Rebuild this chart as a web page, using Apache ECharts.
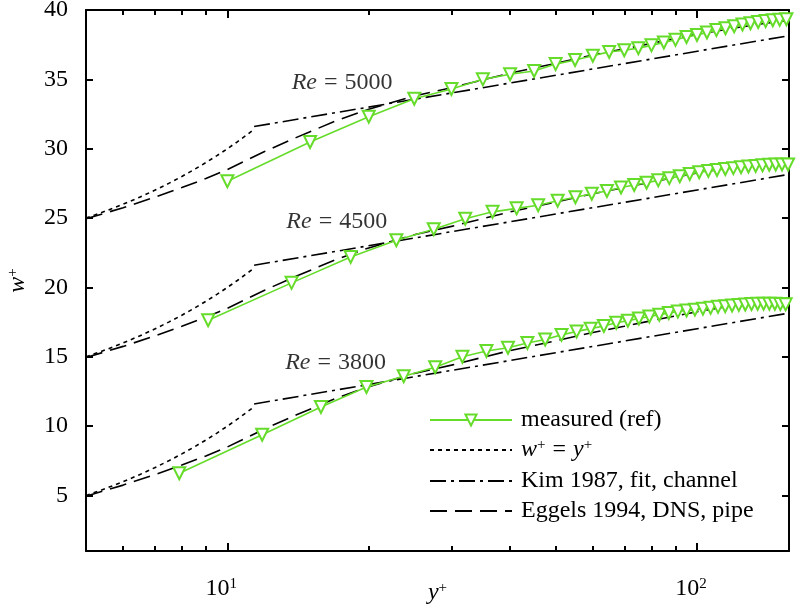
<!DOCTYPE html>
<html>
<head>
<meta charset="utf-8">
<script src="https://cdn.jsdelivr.net/npm/echarts@6/dist/echarts.min.js"></script>
<style>
html,body{margin:0;padding:0;background:#fff;}
#chart{width:798px;height:612px;}
</style>
</head>
<body>
<div id="chart"></div>
<script>
// ---- data ----
var xMajorTicks = [10, 100];
var xMajorExp = ['1', '2'];
var xMinorTicks = [5, 6, 7, 8, 9, 20, 30, 40, 50, 60, 70, 80, 90];
var yTicks = [5, 10, 15, 20, 25, 30, 35, 40];

// w+ = y+ (viscous sublayer)
var dottedX = [5, 5.5, 6, 6.5, 7, 7.5, 8, 8.5, 9, 9.5, 10, 10.5, 11, 11.4];
var dotted3800 = [5, 5.5, 6, 6.5, 7, 7.5, 8, 8.5, 9, 9.5, 10, 10.5, 11, 11.4];
var dotted4500 = [15, 15.5, 16, 16.5, 17, 17.5, 18, 18.5, 19, 19.5, 20, 20.5, 21, 21.4];
var dotted5000 = [25, 25.5, 26, 26.5, 27, 27.5, 28, 28.5, 29, 29.5, 30, 30.5, 31, 31.4];

// Kim 1987 fit (log law)
var kimX = [11.4, 157];
var kim3800 = [11.6, 18.15];
var kim4500 = [21.6, 28.15];
var kim5000 = [31.6, 38.15];

// Eggels 1994 DNS pipe
var dnsX = [5, 6, 7, 8, 9, 10, 12, 14, 17, 20, 25, 30, 40, 50, 60, 70, 80, 100, 120, 140, 157];
var dns3800 = [4.95, 5.75, 6.5, 7.2, 7.85, 8.5, 9.8, 10.8, 12.0, 12.85, 13.8, 14.4, 15.45, 16.15, 16.75, 17.2, 17.6, 18.25, 18.7, 19.05, 19.25];
var dns4500 = [14.95, 15.75, 16.5, 17.2, 17.85, 18.5, 19.8, 20.8, 22.0, 22.85, 23.8, 24.4, 25.45, 26.15, 26.75, 27.2, 27.6, 28.25, 28.7, 29.05, 29.25];
var dns5000 = [24.95, 25.75, 26.5, 27.2, 27.85, 28.5, 29.8, 30.8, 32.0, 32.85, 33.8, 34.4, 35.45, 36.15, 36.75, 37.2, 37.6, 38.25, 38.7, 39.05, 39.25];

// measured (ref)
var measX3800 = [7.9, 11.86, 15.82, 19.78, 23.74, 27.7, 31.66, 35.62, 39.58, 43.54, 47.5, 51.46, 55.42, 59.38, 63.34, 67.3, 71.26, 75.22, 79.18, 83.14, 87.1, 91.06, 95.02, 98.98, 102.94, 106.9, 110.86, 114.82, 118.78, 122.74, 126.7, 130.66, 134.62, 138.58, 142.54, 146.5, 150.46, 154.42];
var measY3800 = [6.6, 9.38, 11.38, 12.82, 13.6, 14.25, 15.0, 15.42, 15.65, 16.0, 16.25, 16.58, 16.83, 17.03, 17.22, 17.45, 17.6, 17.76, 17.9, 18.03, 18.16, 18.26, 18.34, 18.4, 18.47, 18.53, 18.6, 18.65, 18.7, 18.74, 18.77, 18.8, 18.82, 18.83, 18.83, 18.82, 18.8, 18.78];
var measX4500 = [9.1, 13.7, 18.3, 22.9, 27.5, 32.1, 36.7, 41.3, 45.9, 50.5, 55.1, 59.7, 64.3, 68.9, 73.5, 78.1, 82.7, 87.3, 91.9, 96.5, 101.1, 105.7, 110.3, 114.9, 119.5, 124.1, 128.7, 133.3, 137.9, 142.5, 147.1, 151.7, 156.3];
var measY4500 = [17.63, 20.33, 22.2, 23.4, 24.2, 24.95, 25.45, 25.7, 25.92, 26.25, 26.5, 26.75, 26.95, 27.2, 27.38, 27.55, 27.72, 27.88, 28.02, 28.18, 28.3, 28.4, 28.47, 28.54, 28.6, 28.66, 28.72, 28.76, 28.8, 28.84, 28.86, 28.87, 28.87];
var measX5000 = [10, 15, 20, 25, 30, 35, 40, 45, 50, 55, 60, 65, 70, 75, 80, 85, 90, 95, 100, 105, 110, 115, 120, 125, 130, 135, 140, 145, 150, 155];
var measY5000 = [27.66, 30.48, 32.31, 33.6, 34.3, 35.0, 35.37, 35.6, 36.1, 36.4, 36.7, 36.98, 37.1, 37.25, 37.45, 37.66, 37.85, 38.05, 38.2, 38.38, 38.55, 38.68, 38.82, 38.95, 39.05, 39.13, 39.2, 39.26, 39.3, 39.34];

// annotations
var annoX = [17.0, 17.1, 17.55];
var annoY = [14.57, 24.75, 34.79];
var annoRe = ['3800', '4500', '5000'];

var legendNames = ['measured (ref)', 'w+ = y+', 'Kim 1987, fit, channel', 'Eggels 1994, DNS, pipe'];

// ---- chart ----
var FONT = 'Liberation Serif';
var GREEN = '#66DC2A';
var FS = 24;
function zip(xs, ys) { return xs.map(function (x, i) { return [x, ys[i]]; }); }
var supRich = {
  i: { fontStyle: 'italic', fontFamily: FONT, fontSize: FS, color: '#000', lineHeight: 24 },
  sup: { fontSize: 15, fontFamily: FONT, color: '#000', verticalAlign: 'top', padding: [0, 0, 10, 0], lineHeight: 24 },
  n: { fontFamily: FONT, fontSize: FS, color: '#000', lineHeight: 24 },
  e: { fontFamily: FONT, fontSize: FS, color: '#000', padding: [0, 7, 0, 7], lineHeight: 24 }
};

function lineSeries(name, xs, ys, dash) {
  return {
    name: name, type: 'line', data: zip(xs, ys), symbol: 'none', smooth: false,
    xAxisIndex: 0, yAxisIndex: 0, silent: true, animation: false,
    lineStyle: { color: '#000', width: 1.6, type: dash },
    itemStyle: { color: '#000' }, z: 2
  };
}
function measSeries(xs, ys) {
  return {
    name: legendNames[0], type: 'line', data: zip(xs, ys),
    symbol: 'emptyTriangle', symbolRotate: 180, symbolSize: 12, showAllSymbol: true,
    xAxisIndex: 0, yAxisIndex: 0, silent: true, animation: false,
    lineStyle: { color: GREEN, width: 1.6 },
    itemStyle: { color: GREEN, borderColor: GREEN, borderWidth: 1.6 }, z: 5
  };
}

var DOT = [4, 4];
var DASHDOT = [16, 5, 3, 5];
var DASH = [17, 8];

var series = [
  lineSeries(legendNames[1], dottedX, dotted3800, DOT),
  lineSeries(legendNames[1], dottedX, dotted4500, DOT),
  lineSeries(legendNames[1], dottedX, dotted5000, DOT),
  lineSeries(legendNames[2], kimX, kim3800, DASHDOT),
  lineSeries(legendNames[2], kimX, kim4500, DASHDOT),
  lineSeries(legendNames[2], kimX, kim5000, DASHDOT),
  lineSeries(legendNames[3], dnsX, dns3800, DASH),
  lineSeries(legendNames[3], dnsX, dns4500, DASH),
  lineSeries(legendNames[3], dnsX, dns5000, DASH),
  measSeries(measX3800, measY3800),
  measSeries(measX4500, measY4500),
  measSeries(measX5000, measY5000),
  {
    type: 'scatter', name: 'anno', data: zip(annoX, annoY), symbolSize: 0,
    xAxisIndex: 0, yAxisIndex: 0, silent: true, animation: false,
    label: {
      show: true, position: 'inside',
      formatter: function (p) { return '{i|Re}{e|=}{n|' + annoRe[p.dataIndex] + '}'; },
      rich: supRich
    }
  }
];

function xAxisDef(pos, ticks, len, showLine, showLabel) {
  return {
    type: 'log', logBase: 10, min: 5, max: 157, position: pos,
    splitLine: { show: false },
    axisLine: { show: showLine, onZero: false, lineStyle: { color: '#000', width: 2 } },
    axisTick: { show: true, inside: true, length: len, customValues: ticks, lineStyle: { color: '#000', width: 2 } },
    axisLabel: showLabel ? {
      show: true, customValues: xMajorTicks, margin: 26, padding: [0, 12, 0, 0],
      formatter: function (v) { var i = xMajorTicks.indexOf(Math.round(v)); return '{n|10}{sup|' + xMajorExp[i] + '}'; },
      rich: supRich
    } : { show: false },
    minorTick: { show: false }
  };
}
var xAxes = [
  xAxisDef('bottom', xMajorTicks, 8, true, true),
  xAxisDef('bottom', xMinorTicks, 5, false, false),
  xAxisDef('top', xMajorTicks, 8, true, false),
  xAxisDef('top', xMinorTicks, 5, false, false)
];
xAxes[0].name = '{i|y}{sup|+}';
xAxes[0].nameLocation = 'middle';
xAxes[0].nameGap = 30;
xAxes[0].nameMoveOverlap = false;
xAxes[0].nameTextStyle = { rich: supRich };

function yAxisDef(pos, showLabel) {
  return {
    type: 'value', min: 1, max: 40, position: pos,
    splitLine: { show: false },
    axisLine: { show: true, onZero: false, lineStyle: { color: '#000', width: 2 } },
    axisTick: { show: true, inside: true, length: 7, customValues: yTicks, lineStyle: { color: '#000', width: 2 } },
    axisLabel: showLabel ? { show: true, customValues: yTicks, margin: 18, fontFamily: FONT, fontSize: FS, color: '#000' } : { show: false }
  };
}
var yAxes = [yAxisDef('left', true), yAxisDef('right', false)];
yAxes[0].name = '{i|w}{sup|+}';
yAxes[0].nameLocation = 'middle';
yAxes[0].nameRotate = 90;
yAxes[0].nameGap = 56;
yAxes[0].nameMoveOverlap = false;
yAxes[0].nameTextStyle = { rich: supRich };

var legendData = legendNames.map(function (n, i) {
  return i === 0 ? { name: n } : { name: n, itemStyle: { opacity: 0 } };
});

var chart = echarts.init(document.getElementById('chart'), null, { renderer: 'canvas' });
chart.setOption({
  backgroundColor: '#fff',
  animation: false,
  grid: { left: 86, right: 9, top: 10, bottom: 61, containLabel: false, outerBoundsMode: 'none' },
  xAxis: xAxes,
  yAxis: yAxes,
  legend: {
    data: legendData, orient: 'vertical', left: 424, top: 403,
    itemWidth: 82, itemHeight: 14, itemGap: 6,
    selectedMode: false,
    textStyle: { fontFamily: FONT, fontSize: FS, color: '#000', lineHeight: 24, padding: [0, 0, 0, 4], rich: supRich },
    formatter: function (name) {
      if (name === 'w+ = y+') return '{i|w}{sup|+}{e|=}{i|y}{sup|+}';
      return name;
    }
  },
  series: series
});
</script>
</body>
</html>
